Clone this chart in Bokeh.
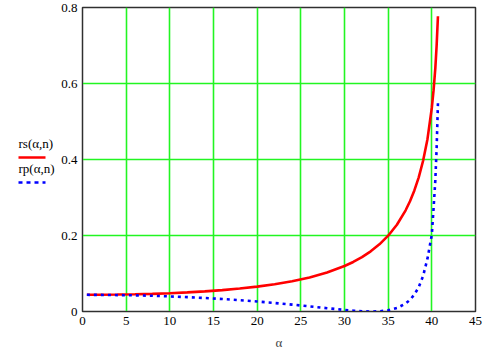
from bokeh.plotting import figure
from bokeh.models import FixedTicker
from bokeh.layouts import row
from bokeh.core.properties import value
from bokeh.embed import file_html
from bokeh.resources import INLINE

# angle alpha (degrees)
alpha = [0.5, 2, 4, 6, 8, 10, 12, 14, 16, 18, 20, 22, 24, 26, 28, 30, 31, 32, 33,
         34, 35, 36, 37, 37.5, 38, 38.5, 39, 39.5, 40, 40.2, 40.4, 40.55, 40.7]
rs_vals = [0.044, 0.0441, 0.0446, 0.0453, 0.0465, 0.0482, 0.0503, 0.053, 0.0563, 0.0604,
           0.0654, 0.0717, 0.0795, 0.0896, 0.1025, 0.1196, 0.1303, 0.1431, 0.1583,
           0.1767, 0.1995, 0.2284, 0.2663, 0.2902, 0.3187, 0.3531, 0.3968, 0.4535,
           0.5363, 0.5824, 0.6406, 0.70, 0.777]
rp_vals = [0.0439, 0.0437, 0.0432, 0.0425, 0.0413, 0.0397, 0.0378, 0.0356, 0.0329, 0.0298,
           0.0263, 0.0224, 0.0181, 0.0135, 0.0087, 0.0042, 0.0022, 0.0007, 0.0,
           0.0005, 0.0030, 0.0090, 0.0209, 0.0307, 0.0445, 0.0641, 0.0935, 0.139,
           0.2021, 0.272, 0.3455, 0.43, 0.548]
x_ticks = [0, 5, 10, 15, 20, 25, 30, 35, 40, 45]
y_ticks = [0, 0.2, 0.4, 0.6, 0.8]
series_labels = ["rs(\u03b1,n)", "rp(\u03b1,n)"]
series_colors = ["#ff0000", "#0000ff"]

SERIF = "serif"
GRID = "#22f522"
LEG_W = 58

# ---- legend panel (left) ----
leg = figure(frame_width=LEG_W, frame_height=356, x_range=(0, LEG_W), y_range=(356, 0),
             output_backend="svg", toolbar_location=None, title=None,
             min_border=0, min_border_left=0, min_border_right=0,
             min_border_top=0, min_border_bottom=0)
leg.axis.visible = False
leg.grid.visible = False
leg.outline_line_color = None
leg.text(x=[18, 18], y=[136, 161], text=series_labels,
         text_font=value(SERIF), text_font_size="13px", text_color="black",
         text_baseline="middle")
leg.line(x=[18, 45], y=[150, 150], line_color=series_colors[0], line_width=2.6)
leg.line(x=[18, 45], y=[175, 175], line_color=series_colors[1], line_width=2.6,
         line_dash="4 4")

# ---- main plot ----
p = figure(frame_width=393, frame_height=304, x_range=(0, 45), y_range=(0, 0.8),
           output_backend="svg", toolbar_location=None, title=None,
           min_border_left=82 - LEG_W, min_border_right=23, min_border_top=7,
           min_border_bottom=45)
p.background_fill_color = "white"
p.border_fill_color = "white"
p.outline_line_color = "#303030"
p.outline_line_width = 1.5

p.xaxis.ticker = FixedTicker(ticks=x_ticks)
p.yaxis.ticker = FixedTicker(ticks=y_ticks)
p.xgrid.ticker = FixedTicker(ticks=x_ticks[1:-1])
p.ygrid.ticker = FixedTicker(ticks=y_ticks[1:-1])
for g in (p.xgrid, p.ygrid):
    g.grid_line_color = GRID
    g.grid_line_width = 1.6
    g.grid_line_alpha = 1

for ax in (p.xaxis, p.yaxis):
    ax.major_tick_out = 0
    ax.major_tick_in = 0
    ax.minor_tick_out = 0
    ax.minor_tick_in = 0
    ax.axis_line_color = "#303030"
    ax.major_label_text_font = SERIF
    ax.major_label_text_font_size = "13px"
    ax.major_label_text_color = "black"
p.yaxis.major_label_overrides = {0: "0", 0.2: "0.2", 0.4: "0.4", 0.6: "0.6", 0.8: "0.8"}
p.xaxis.major_label_standoff = 5
p.yaxis.major_label_standoff = 5
p.xaxis.axis_label = "\u03b1"
p.xaxis.axis_label_text_font = SERIF
p.xaxis.axis_label_text_font_size = "13px"
p.xaxis.axis_label_text_font_style = "normal"
p.xaxis.axis_label_standoff = 7

p.line(alpha, rs_vals, line_color=series_colors[0], line_width=2.6)
p.line(alpha, rp_vals, line_color=series_colors[1], line_width=2.6, line_dash="3 4")

layout = row(leg, p, spacing=0)
open("out.html", "w").write(file_html(layout, INLINE))
